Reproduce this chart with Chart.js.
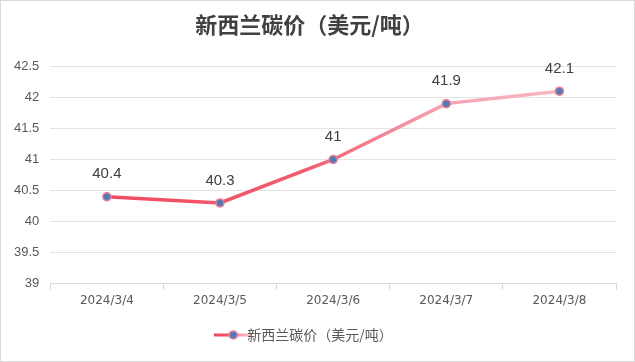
<!DOCTYPE html>
<html>
<head>
<meta charset="utf-8">
<script src="https://cdn.jsdelivr.net/npm/chart.js@4"></script>
<style>
  html, body { margin: 0; padding: 0; background: #fff; }
  #wrap { position: relative; width: 633px; height: 360px; border: 1px solid #d9d9d9; }
</style>
</head>
<body>
<div id="wrap"><canvas id="chart"></canvas></div>
<script>
var dates = ['2024/3/4', '2024/3/5', '2024/3/6', '2024/3/7', '2024/3/8']
var prices = [40.4, 40.3, 41, 41.9, 42.1]
var seriesName = '新西兰碳价（美元/吨）'

function lineGradient(ctx, x0, x1) {
    var g = ctx.createLinearGradient(x0, 0, x1, 0)
    g.addColorStop(0, '#f2465c')
    g.addColorStop(0.45, '#f45a6e')
    g.addColorStop(0.7, '#f7a3b1')
    g.addColorStop(1, '#f9c3cc')
    return g
}

// legend marker: short gradient line with a dot
var legendMark = document.createElement('canvas')
legendMark.width = 38
legendMark.height = 12
;(function(){
    var c = legendMark.getContext('2d')
    c.strokeStyle = lineGradient(c, 0, 38)
    c.lineWidth = 3
    c.beginPath(); c.moveTo(0, 6); c.lineTo(38, 6); c.stroke()
    c.fillStyle = '#4a7ebb'
    c.strokeStyle = '#f47a8c'
    c.lineWidth = 1.5
    c.beginPath(); c.arc(19, 6, 4, 0, Math.PI * 2); c.fill(); c.stroke()
})()

var valueLabels = {
    id: 'valueLabels',
    afterDatasetsDraw(chart) {
        var ctx = chart.ctx
        var meta = chart.getDatasetMeta(0)
        ctx.save()
        ctx.font = '15px "Liberation Sans", Arial, sans-serif'
        ctx.fillStyle = '#404040'
        ctx.textAlign = 'center'
        ctx.textBaseline = 'bottom'
        meta.data.forEach(function(pt, i){
            ctx.fillText(String(prices[i]), pt.x, pt.y - 15)
        })
        ctx.restore()
    }
}

new Chart(document.getElementById('chart').getContext('2d'), {
    type: 'line',
    data: {
        labels: dates,
        datasets: [{
            label: seriesName,
            data: prices,
            borderColor: function(context) {
                var area = context.chart.chartArea
                if (!area) return '#f2465c'
                return lineGradient(context.chart.ctx, area.left, area.right)
            },
            borderWidth: 3.5,
            tension: 0,
            pointRadius: 4,
            pointHoverRadius: 4,
            pointBackgroundColor: '#4a7ebb',
            pointBorderColor: '#f47a8c',
            pointBorderWidth: 1.5
        }]
    },
    options: {
        responsive: true,
        maintainAspectRatio: false,
        animation: false,
        layout: { padding: { left: 2, right: 18, top: 4, bottom: 9 } },
        plugins: {
            title: {
                display: true,
                text: seriesName,
                color: '#404040',
                font: { family: '"Noto Sans CJK SC", sans-serif', size: 22, weight: 'bold' },
                padding: { top: 6, bottom: 29 }
            },
            legend: {
                position: 'bottom',
                labels: {
                    color: '#595959',
                    font: { family: '"Noto Sans CJK SC", sans-serif', size: 14 },
                    usePointStyle: true,
                    padding: 16,
                    generateLabels: function(chart) {
                        return [{
                            text: seriesName,
                            pointStyle: legendMark,
                            fontColor: '#595959',
                            datasetIndex: 0,
                            lineWidth: 0
                        }]
                    }
                }
            },
            tooltip: { enabled: false }
        },
        scales: {
            x: {
                offset: true,
                grid: {
                    offset: true,
                    drawOnChartArea: false,
                    color: '#d9d9d9',
                    tickLength: 6
                },
                border: { color: '#d9d9d9' },
                ticks: {
                    color: '#595959',
                    font: { family: '"DejaVu Sans", sans-serif', size: 12 },
                    padding: 4
                }
            },
            y: {
                min: 39,
                max: 42.5,
                ticks: {
                    stepSize: 0.5,
                    color: '#595959',
                    font: { family: '"Liberation Sans", Arial, sans-serif', size: 13 },
                    padding: 11,
                    callback: function(v) { return String(v) }
                },
                grid: { color: '#e3e3e3', drawTicks: false },
                border: { display: false }
            }
        }
    },
    plugins: [valueLabels]
});
</script>
</body>
</html>
